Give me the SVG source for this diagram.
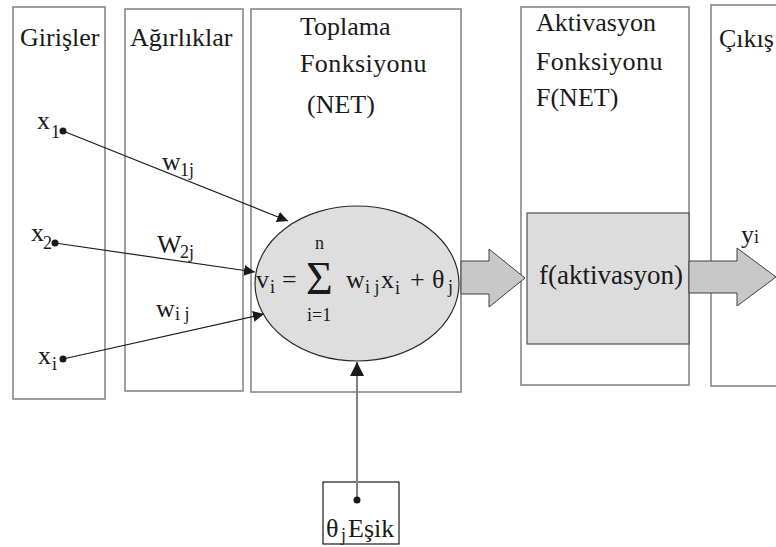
<svg xmlns="http://www.w3.org/2000/svg" width="776" height="547" viewBox="0 0 776 547" font-family="'Liberation Serif', 'Times New Roman', serif">
  <style>
    .panel { fill: #ffffff; stroke: #808080; stroke-width: 1.5; }
    text { font-family: 'Liberation Serif', 'Times New Roman', serif; fill: #1a1a1a; }
    .lbl { font-size: 26px; }
    .sub { font-size: 18px; }
    .wire { stroke: #1a1a1a; stroke-width: 1.2; fill: none; }
    .dot { fill: #1a1a1a; }
    .flow { fill: #c8c8c8; stroke: #404040; stroke-width: 1; }
  </style>
  <defs>
    <marker id="tip" viewBox="0 0 10 10" refX="10" refY="5" markerWidth="11" markerHeight="11" markerUnits="userSpaceOnUse" orient="auto">
      <path d="M0,0 L10,5 L0,10 Z" fill="#1a1a1a"/>
    </marker>
    <marker id="tipBig" viewBox="0 0 10 10" refX="10" refY="5" markerWidth="14" markerHeight="14" markerUnits="userSpaceOnUse" orient="auto">
      <path d="M0,0 L10,5 L0,10 Z" fill="#1a1a1a"/>
    </marker>
  </defs>

  <!-- column panels -->
  <g id="inputs">
    <rect class="panel" x="13" y="7" width="92" height="392"/>
    <text class="lbl" x="20" y="46">Girişler</text>
  </g>
  <g id="weights">
    <rect class="panel" x="125" y="9" width="118" height="382"/>
    <text class="lbl" x="130" y="46">Ağırlıklar</text>
  </g>
  <g id="summation">
    <rect class="panel" x="251" y="9" width="210" height="383"/>
    <text class="lbl" x="300" y="35">Toplama</text>
    <text class="lbl" x="300" y="72" letter-spacing="0.4">Fonksiyonu</text>
    <text class="lbl" x="307" y="113">(NET)</text>
  </g>
  <g id="activation">
    <rect class="panel" x="521" y="7" width="168" height="378"/>
    <text class="lbl" x="536" y="31">Aktivasyon</text>
    <text class="lbl" x="536" y="70" letter-spacing="0.4">Fonksiyonu</text>
    <text class="lbl" x="536" y="106">F(NET)</text>
  </g>
  <g id="output">
    <rect class="panel" x="711" y="5" width="80" height="381"/>
    <text class="lbl" x="719" y="47">Çıkış</text>
  </g>

  <!-- summation node: v_i = Σ w_ij x_i + θ_j -->
  <g id="sum-node">
    <ellipse cx="357" cy="283.5" rx="102" ry="77.5" fill="#dedede" stroke="#2a2a2a" stroke-width="1.2"/>
    <text class="lbl" x="256" y="288">v</text>
    <text class="sub" x="270" y="293">i</text>
    <text class="lbl" x="282" y="288">=</text>
    <text x="306" y="294" font-size="46">Σ</text>
    <text class="sub" x="315" y="249">n</text>
    <text class="sub" x="307" y="321">i=1</text>
    <text class="lbl" x="346" y="288">w</text>
    <text class="sub" x="365" y="293">i j</text>
    <text class="lbl" x="381" y="288">x</text>
    <text class="sub" x="395" y="294">i</text>
    <text class="lbl" x="410" y="288">+</text>
    <text class="lbl" x="432" y="288">θ</text>
    <text class="sub" x="448" y="293">j</text>
  </g>

  <!-- activation function block -->
  <g id="activation-fn">
    <rect x="527" y="213" width="162" height="131" fill="#dcdcdc" stroke="#505050" stroke-width="1.2"/>
    <text x="539" y="284" font-size="27">f(aktivasyon)</text>
  </g>

  <!-- threshold -->
  <g id="threshold">
    <rect x="323" y="482" width="76" height="62" fill="#ffffff" stroke="#1a1a1a" stroke-width="1.2"/>
    <text class="lbl" x="326" y="537">θ</text>
    <text class="sub" x="341" y="541">j</text>
    <text class="lbl" x="348" y="537">Eşik</text>
  </g>

  <!-- input labels -->
  <g id="input-labels">
    <text class="lbl" x="37" y="129">x</text>
    <text class="sub" x="51" y="138">1</text>
    <text class="lbl" x="31" y="241">x</text>
    <text class="sub" x="43" y="249">2</text>
    <text class="lbl" x="38" y="364">x</text>
    <text class="sub" x="52" y="370">i</text>
  </g>
  <!-- weight labels and output label -->
  <g id="weight-labels">
    <text class="lbl" x="162" y="170">w</text>
    <text class="sub" x="180" y="176">1j</text>
    <text class="lbl" x="157" y="253">W</text>
    <text class="sub" x="180" y="258">2j</text>
    <text class="lbl" x="156" y="317">w</text>
    <text class="sub" x="175" y="320">i j</text>
    <text class="lbl" x="741" y="243">y</text>
    <text class="sub" x="754" y="243">i</text>
  </g>

  <!-- connectors -->
  <g id="connectors">
    <line class="wire" x1="63" y1="131" x2="288" y2="221" marker-end="url(#tip)"/>
    <line class="wire" x1="55" y1="243" x2="255" y2="272" marker-end="url(#tip)"/>
    <line class="wire" x1="63" y1="359" x2="264" y2="314" marker-end="url(#tip)"/>
    <line x1="357" y1="500" x2="357" y2="362" stroke="#808080" stroke-width="2" marker-end="url(#tipBig)"/>
    <circle class="dot" cx="63" cy="131" r="3.5"/>
    <circle class="dot" cx="55" cy="243" r="3.5"/>
    <circle class="dot" cx="63" cy="359" r="3.5"/>
    <circle class="dot" cx="357" cy="500" r="3.5"/>
    <path class="flow" d="M461,261 L489,261 L489,249 L525,278 L489,307 L489,294 L461,294 Z"/>
    <path class="flow" d="M689,261 L737,261 L737,248 L776,277 L737,306 L737,293 L689,293 Z"/>
  </g>
</svg>
